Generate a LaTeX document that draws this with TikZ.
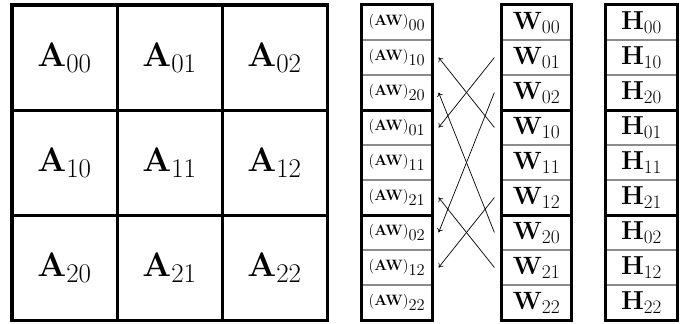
\RequirePackage{fix-cm}
\documentclass[tikz,border=0pt]{standalone}
\usetikzlibrary{arrows.meta}
% math sizes for the label sizes: text / script / scriptscript
\DeclareMathSizes{34}{34}{27}{20}
\DeclareMathSizes{25}{25}{19.5}{15}
\DeclareMathSizes{26}{26}{19}{15}
\DeclareMathSizes{15}{15}{16.5}{12}
\tikzset{
  heavy/.style={line width=3.4pt, draw=black, line join=miter},
  thin grid/.style={line width=1.2pt, draw=black!45},
  acell/.style={minimum width=105pt, minimum height=105pt, inner sep=0pt,
    font=\fontsize{34}{38}\selectfont},
  awcell/.style={thin grid, minimum width=70pt, minimum height=35pt, inner sep=0pt,
    font=\fontsize{15}{17}\selectfont},
  wcell/.style={thin grid, minimum width=69pt, minimum height=35pt, inner sep=0pt,
    font=\fontsize{25}{28}\selectfont},
  hcell/.style={thin grid, minimum width=71pt, minimum height=35pt, inner sep=0pt,
    font=\fontsize{26}{28}\selectfont},
  perm/.style={line width=0.7pt, -{To[length=4pt,width=6pt]}},
}
\begin{document}
\begin{tikzpicture}[x=1pt,y=-1pt]
\useasboundingbox (0,0) rectangle (694,324);

% 3x3 block matrix A
\foreach \r in {0,1,2}{
  \foreach \c in {0,1,2}{
    \node[acell] (a\r\c) at (64.5+105*\c, 57.5+105*\r) {$\mathbf{A}_{\r\c}$};
  }
}
\draw[heavy] (a00.north west) rectangle (a22.south east);
\draw[heavy] (a00.north east) -- (a20.south east);
\draw[heavy] (a01.north east) -- (a21.south east);
\draw[heavy] (a00.south west) -- (a02.south east);
\draw[heavy] (a10.south west) -- (a12.south east);

% column of AW blocks, stored column by column
\foreach \lab [count=\i from 0] in {00,10,20,01,11,21,02,12,22}{
  \node[awcell] (aw\lab) at (397, 22.5+35*\i) {$\mathbf{(AW)}_{\lab}$};
}
\draw[heavy] (aw00.north west) rectangle (aw22.south east);
\draw[heavy] (aw20.south west) -- (aw20.south east);
\draw[heavy] (aw21.south west) -- (aw21.south east);

% column of W blocks, stored row by row
\foreach \lab [count=\i from 0] in {00,01,02,10,11,12,20,21,22}{
  \node[wcell] (w\lab) at (536.5, 22.5+35*\i) {$\mathbf{W}_{\lab}$};
}
\draw[heavy] (w00.north west) rectangle (w22.south east);
\draw[heavy] (w02.south west) -- (w02.south east);
\draw[heavy] (w12.south west) -- (w12.south east);

% column of H blocks, stored column by column
\foreach \lab [count=\i from 0] in {00,10,20,01,11,21,02,12,22}{
  \node[hcell] (h\lab) at (641.5, 22.5+35*\i) {$\mathbf{H}_{\lab}$};
}
\draw[heavy] (h00.north west) rectangle (h22.south east);
\draw[heavy] (h20.south west) -- (h20.south east);
\draw[heavy] (h21.south west) -- (h21.south east);

% permutation of the off-diagonal blocks
\foreach \lab in {01,10,02,20,12,21}{
  \draw[perm] ([xshift=-7pt]w\lab.west) -- ([xshift=6pt]aw\lab.east);
}
\end{tikzpicture}
\end{document}
